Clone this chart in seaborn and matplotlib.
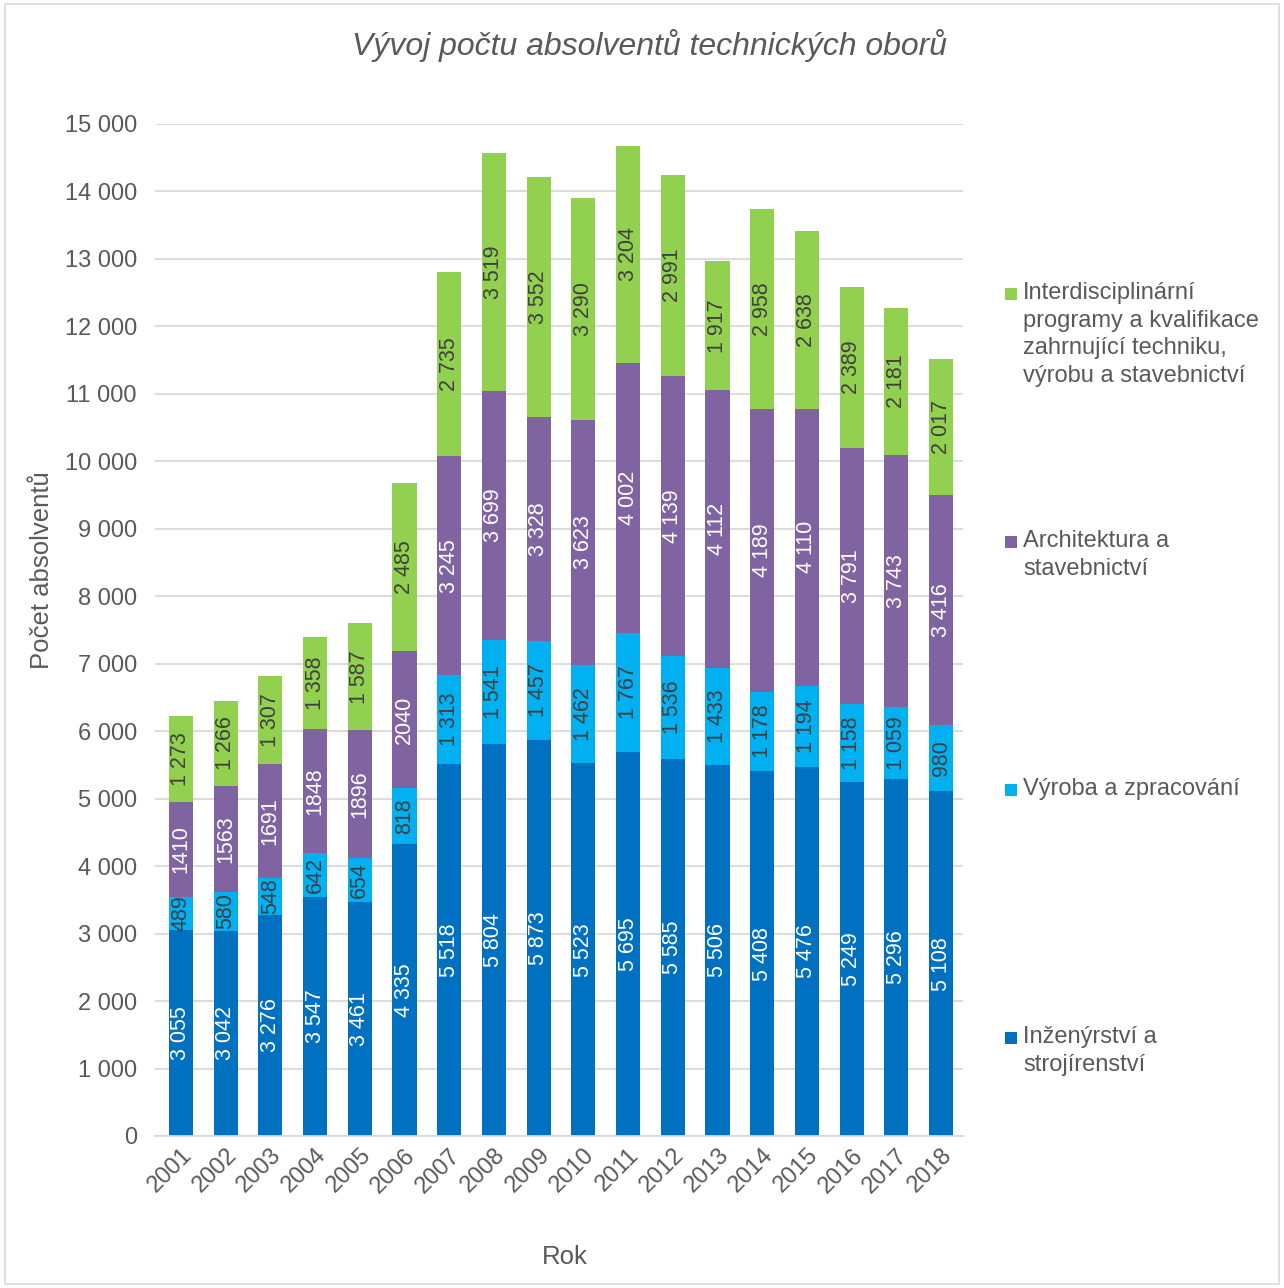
import matplotlib
matplotlib.use("Agg")
import matplotlib.pyplot as plt
import matplotlib.patches as mpatches
import seaborn as sns
import numpy as np
import pandas as pd

years = [str(y) for y in range(2001, 2019)]
inzenyrstvi = [3055, 3042, 3276, 3547, 3461, 4335, 5518, 5804, 5873, 5523, 5695, 5585, 5506, 5408, 5476, 5249, 5296, 5108]
vyroba = [489, 580, 548, 642, 654, 818, 1313, 1541, 1457, 1462, 1767, 1536, 1433, 1178, 1194, 1158, 1059, 980]
architektura = [1410, 1563, 1691, 1848, 1896, 2040, 3245, 3699, 3328, 3623, 4002, 4139, 4112, 4189, 4110, 3791, 3743, 3416]
interdisc = [1273, 1266, 1307, 1358, 1587, 2485, 2735, 3519, 3552, 3290, 3204, 2991, 1917, 2958, 2638, 2389, 2181, 2017]

series_names = ["Inženýrství a\nstrojírenství", "Výroba a zpracování",
                "Architektura a\nstavebnictví",
                "Interdisciplinární\nprogramy a kvalifikace\nzahrnující techniku,\nvýrobu a stavebnictví"]
series_vals = [inzenyrstvi, vyroba, architektura, interdisc]
colors = ["#0070C0", "#00B0F0", "#8064A2", "#92D050"]
label_colors = ["white", "#404040", "white", "#404040"]
use_sep = [
    [True] * 18,
    [True] * 18,
    [False] * 6 + [True] * 12,
    [True] * 18,
]

sns.set_theme(style="white")
plt.rcParams['font.family'] = ['Liberation Sans', 'DejaVu Sans']
TXT = "#595959"
W, H = 1284, 1288

fig = plt.figure(figsize=(W / 100, H / 100), dpi=100)
ax = fig.add_axes([155 / W, 1 - 1136 / H, (963 - 155) / W, (1136 - 124) / H])

vals = np.array(series_vals)
cum = np.cumsum(vals, axis=0)
df = pd.DataFrame({"year": years})
for i in range(3, -1, -1):
    df["v"] = cum[i]
    sns.barplot(data=df, x="year", y="v", color=colors[i], width=0.54,
                saturation=1, ax=ax, zorder=2, edgecolor="none")

def fmt(v, sep):
    return f"{v:,}".replace(",", " ") if sep else str(v)

for i in range(4):
    for j in range(18):
        bottom = cum[i][j] - vals[i][j]
        yc = bottom + vals[i][j] / 2
        ax.text(j, yc, fmt(vals[i][j], use_sep[i][j]), rotation=90,
                ha="center", va="center", color=label_colors[i],
                fontsize=15.5, zorder=5)

ax.set_ylim(0, 15000)
ax.set_xlim(-0.58, 17.49)
ax.set_yticks(range(0, 15001, 1000))
ax.set_yticklabels([fmt(v, True) for v in range(0, 15001, 1000)], color=TXT, fontsize=17)
ax.set_xticks(range(18))
ax.set_xticklabels(years, rotation=45, ha="right", rotation_mode="anchor", color=TXT, fontsize=17)
ax.tick_params(axis="y", length=0, pad=13)
ax.tick_params(axis="x", length=0, pad=6)
ax.grid(axis="y", color="#D9D9D9", linewidth=1.3, zorder=0)
ax.set_axisbelow(True)
for s in ["top", "right", "left"]:
    ax.spines[s].set_visible(False)
ax.spines["bottom"].set_color("#D9D9D9")
ax.spines["bottom"].set_linewidth(1.3)
ax.set_xlabel("")
ax.set_ylabel("")

fig.text(565 / W, 1 - 1257 / H, "Rok", color=TXT, fontsize=18.5, ha="center", va="center")
fig.text(42 / W, 1 - 570 / H, "Počet absolventů", color=TXT, fontsize=18.5,
         ha="center", va="center", rotation=90)
fig.text(649 / W, 1 - 46 / H, "Vývoj počtu absolventů technických oborů", color=TXT,
         fontsize=23, style="italic", ha="center", va="center")

# legend entries (drawn manually, handle aligned with first line)
anchors = [1038, 790, 542, 294]
for i in range(4):
    y0 = anchors[i]
    fig.add_artist(mpatches.Rectangle((1005 / W, 1 - (y0 + 6) / H), 12 / W, 12 / H,
                                      transform=fig.transFigure, color=colors[i], lw=0))
    fig.text(1023 / W, 1 - (y0 - 12) / H, series_names[i], color=TXT, fontsize=17,
             ha="left", va="top", linespacing=1.33)

fig.add_artist(mpatches.Rectangle((0.004, 0.003), 0.992, 0.994, transform=fig.transFigure,
                                  fill=False, edgecolor="#D9D9D9", linewidth=1.2))

fig.savefig("out.png", dpi=100, facecolor="white")
